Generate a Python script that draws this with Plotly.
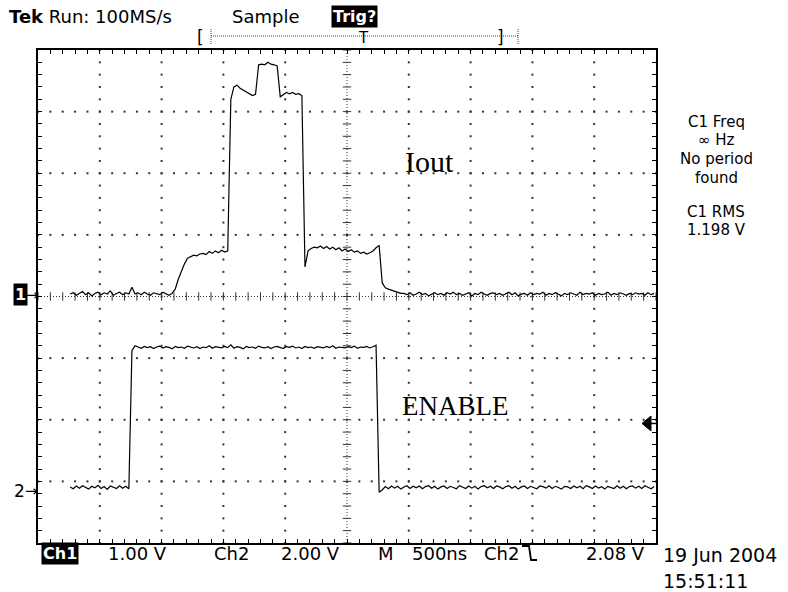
import numpy as np
import plotly.graph_objects as go

# ---------------- data ----------------
T0_NS = -2240          # first sample time (ns, trigger at centre = 0)
DT_NS = 25             # sample spacing (ns)
NS_PER_DIV = 500
CH1_V_PER_DIV = 1.0
CH2_V_PER_DIV = 2.0
CH1_GROUND_DIV = 0.0
CH2_GROUND_DIV = -3.1
TRIG_LEVEL_V = 2.08

# Ch1 : Iout (V)
iout_v = [
    0.04, 0.06, 0.02, 0.05, 0.08, 0.03, 0.06, 0.01, 0.05, 0.07,
    0.03, 0.06, 0.04, 0.09, 0.02, 0.05, 0.07, 0.03, 0.06, 0.04,
    0.15, 0.04, 0.06, 0.03, 0.07, 0.04, 0.02, 0.06, 0.05, 0.03,
    0.07, 0.04, 0.02, 0.05,
    0.12, 0.28, 0.42, 0.53, 0.62, 0.65, 0.67, 0.66, 0.69, 0.70,
    0.68, 0.73, 0.70, 0.74, 0.71, 0.75, 0.72, 0.74,
    3.20, 3.40, 3.43, 3.38, 3.35, 3.33, 3.30, 3.26, 3.28,
    3.76, 3.77, 3.76, 3.80, 3.77, 3.76, 3.74,
    3.24, 3.27, 3.31, 3.29, 3.31, 3.28, 3.29, 3.26,
    0.48, 0.74, 0.78, 0.80, 0.79, 0.82, 0.78, 0.81, 0.77, 0.80,
    0.76, 0.79, 0.74, 0.77, 0.73, 0.76, 0.72, 0.74, 0.70, 0.72,
    0.69, 0.71, 0.74, 0.79, 0.83,
    0.22, 0.14, 0.12, 0.10, 0.08, 0.07, 0.05,
    0.05, 0.03, 0.06, 0.02, 0.04, 0.07, 0.03, 0.05, 0.01, 0.04,
    0.06, 0.03, 0.05, 0.02, 0.06, 0.04, 0.07, 0.03, 0.05, 0.02,
    0.04, 0.06, 0.01, 0.05, 0.03, 0.07, 0.04, 0.02, 0.05, 0.06,
    0.03, 0.05, 0.02, 0.04, 0.07, 0.03, 0.06, 0.01, 0.04, 0.05,
    0.02, 0.06, 0.03, 0.05, 0.04, 0.07, 0.02, 0.05, 0.03, 0.06,
    0.04, 0.01, 0.05, 0.03, 0.06, 0.04, 0.02, 0.07, 0.03, 0.05,
    0.04, 0.06, 0.02, 0.05, 0.03, 0.04, 0.07, 0.02, 0.05, 0.03,
    0.06, 0.04, 0.02, 0.05, 0.03, 0.06, 0.04, 0.05, 0.02, 0.06,
    0.03, 0.05,
]

# Ch2 : ENABLE (V)
enable_v = [
    0.02, -0.04, 0.05, -0.02, 0.06, 0.00, -0.05, 0.04, -0.01, 0.07,
    -0.03, 0.03, -0.06, 0.05, 0.01, -0.03, 0.06, -0.02, 0.04, -0.04,
    4.45, 4.60, 4.56, 4.52, 4.58, 4.54, 4.57, 4.51, 4.56, 4.59,
    4.53, 4.57, 4.55, 4.50, 4.58, 4.54, 4.56, 4.52, 4.59, 4.55,
    4.53, 4.57, 4.51, 4.56, 4.54, 4.60, 4.52, 4.57, 4.55, 4.53,
    4.58, 4.54, 4.63, 4.52, 4.57, 4.55, 4.50, 4.58, 4.54, 4.56,
    4.52, 4.59, 4.55, 4.53, 4.57, 4.51, 4.56, 4.58, 4.54, 4.52,
    4.57, 4.55, 4.59, 4.53, 4.56, 4.51, 4.58, 4.54, 4.56, 4.52,
    4.57, 4.55, 4.53, 4.58, 4.54, 4.60, 4.52, 4.56, 4.55, 4.53,
    4.57, 4.54, 4.59, 4.52, 4.56, 4.55, 4.58, 4.53, 4.57, 4.62,
    -0.15, -0.08, 0.03, -0.04, 0.05, -0.02, 0.04, -0.05, 0.02, 0.06,
    -0.03, 0.04, -0.01, 0.05, -0.04, 0.03, 0.06, -0.02, 0.04, -0.05,
    0.02, 0.05, -0.03, 0.04, 0.00, -0.04, 0.06, 0.01, -0.03, 0.05,
    -0.02, 0.04, -0.05, 0.03, 0.06, -0.01, 0.04, -0.03, 0.05, 0.02,
    -0.04, 0.03, 0.06, -0.02, 0.04, -0.05, 0.02, 0.05, -0.03, 0.04,
    0.01, -0.04, 0.05, 0.03, -0.02, 0.06, -0.03, 0.04, 0.00, -0.05,
    0.04, 0.02, -0.03, 0.05, -0.01, 0.04, -0.04, 0.06, 0.02, -0.03,
    0.05, -0.02, 0.03, -0.05, 0.04, 0.01, -0.03, 0.06, -0.02, 0.04,
    -0.04, 0.03, 0.05, -0.02, 0.04, -0.03, 0.06, 0.01, -0.04, 0.03,
]

header_texts = ["Tek Run: 100MS/s", "Sample", "Trig?"]
footer_texts = ["Ch1", "1.00 V", "Ch2", "2.00 V", "M", "500ns", "Ch2", "2.08 V"]
side_texts = ["C1 Freq", "\u221e Hz", "No period", "found", "C1 RMS", "1.198 V"]
date_texts = ["19 Jun 2004", "15:51:11"]

# ---------------- geometry ----------------
W, H = 788, 592
L, R, T, B = 38, 656, 50, 543
X_DIVS, Y_DIVS = 10, 8
X_HALF = X_DIVS / 2 * NS_PER_DIV


def px(x):
    return (x - L) / (R - L)


def py(y):
    return (B - y) / (B - T)


t1 = T0_NS + DT_NS * np.arange(len(iout_v))
t2 = T0_NS + DT_NS * np.arange(len(enable_v))
y1 = np.array(iout_v) / CH1_V_PER_DIV + CH1_GROUND_DIV
y2 = np.array(enable_v) / CH2_V_PER_DIV + CH2_GROUND_DIV

fig = go.Figure()

# graticule dots
gx, gy = [], []
minor_x = [-X_HALF + i * NS_PER_DIV / 5 for i in range(X_DIVS * 5 + 1)]
minor_y = [-Y_DIVS / 2 + j / 5 for j in range(Y_DIVS * 5 + 1)]
for i in range(1, X_DIVS):
    if i == X_DIVS // 2:
        continue
    xv = -X_HALF + i * NS_PER_DIV
    for yv in minor_y:
        gx.append(xv)
        gy.append(yv)
for j in range(1, Y_DIVS):
    if j == Y_DIVS // 2:
        continue
    yv = -Y_DIVS / 2 + j
    for xv in minor_x:
        gx.append(xv)
        gy.append(yv)
fig.add_trace(go.Scatter(x=gx, y=gy, mode="markers", hoverinfo="skip",
                         marker=dict(symbol="square", size=2, color="#333333", line=dict(width=0)),
                         showlegend=False))
# centre-axis cross ticks
fig.add_trace(go.Scatter(x=minor_x, y=[0] * len(minor_x), mode="markers", hoverinfo="skip",
                         marker=dict(symbol="line-ns", size=6, line=dict(width=1, color="#333333")),
                         showlegend=False))
fig.add_trace(go.Scatter(x=[0] * len(minor_y), y=minor_y, mode="markers", hoverinfo="skip",
                         marker=dict(symbol="line-ew", size=6, line=dict(width=1, color="#333333")),
                         showlegend=False))

# traces
fig.add_trace(go.Scatter(x=t1, y=y1, mode="lines", name="Iout",
                         line=dict(color="black", width=1.2), showlegend=False))
fig.add_trace(go.Scatter(x=t2, y=y2, mode="lines", name="ENABLE",
                         line=dict(color="black", width=1.2), showlegend=False))

# trigger level marker on the right edge
trig_div = TRIG_LEVEL_V / CH2_V_PER_DIV + CH2_GROUND_DIV
fig.add_shape(type="line", xref="paper", yref="y", x0=px(649), x1=1, y0=trig_div, y1=trig_div,
              line=dict(color="black", width=1.5))
fig.add_shape(type="path", xref="paper", yref="paper",
              path="M {},{} L {},{} L {},{} Z".format(px(642), py(423.4), px(651), py(416), px(651), py(431)),
              fillcolor="black", line=dict(color="black", width=1))

# centre dotted axes
fig.add_shape(type="line", x0=0, x1=0, y0=-Y_DIVS / 2, y1=Y_DIVS / 2, layer="below",
              line=dict(color="#333333", width=1, dash="1px,2px"))
fig.add_shape(type="line", x0=-X_HALF, x1=X_HALF, y0=0, y1=0, layer="below",
              line=dict(color="#333333", width=1, dash="1px,2px"))

# record-view bar at top
fig.add_shape(type="line", xref="paper", yref="paper", x0=px(211), x1=px(518), y0=py(36), y1=py(36),
              line=dict(color="#444444", width=1, dash="1px,1px"))
for xx in (211, 518):
    fig.add_shape(type="line", xref="paper", yref="paper", x0=px(xx), x1=px(xx), y0=py(29), y1=py(44),
                  line=dict(color="#444444", width=1, dash="1px,1px"))
# falling-edge symbol in footer
fig.add_shape(type="path", xref="paper", yref="paper",
              path="M {},{} L {},{} L {},{} L {},{}".format(px(522), py(546), px(529), py(546),
                                                          px(531), py(560), px(537), py(560)),
              line=dict(color="black", width=1.8))

SANS = "DejaVu Sans, Verdana, sans-serif"
SERIF = "Liberation Serif, Times New Roman, serif"
ann = []


def text(s, x, y, size=17, color="black", bg=None, family=SANS, xanchor="center"):
    d = dict(text=s, x=px(x), y=py(y), xref="paper", yref="paper", showarrow=False,
             xanchor=xanchor, yanchor="middle", font=dict(family=family, size=size, color=color))
    if bg:
        d.update(bgcolor=bg, borderpad=1)
    ann.append(d)


# header
text("<b>Tek</b> Run: 100MS/s", 7, 16, size=18, xanchor="left")
text(header_texts[1], 266, 16, size=18)
text("<b>" + header_texts[2] + "</b>", 354, 16, size=16, color="white", bg="black")
text("[", 201, 37, size=17)
text("T", 363, 38, size=15)
text("]", 500, 37, size=17)

# footer
fx = [60, 137, 231, 310, 386, 439, 501, 615]
for s, x in zip(footer_texts, fx):
    if s == "Ch1":
        text("<b>" + s + "</b>", x, 553, size=16, color="white", bg="black")
    else:
        text(s, x, 553, size=18)
text(date_texts[0], 661, 555, size=19, xanchor="left")
text(date_texts[1], 661, 581, size=19, xanchor="left")

# side readouts
sy = [122, 140, 159, 178, 212, 230]
for s, y in zip(side_texts, sy):
    text(s, 716, y, size=15)

# channel markers
text("<b>1</b>", 20, 294, size=16, color="white", bg="black")
text("\u2192", 32, 295, size=15)
text("2", 19, 491, size=17)
text("\u2192", 31, 491, size=15)

# trace labels
text("Iout", 429, 161, size=30, family=SERIF)
text("ENABLE", 455, 406, size=27, family=SERIF)

fig.update_layout(
    width=W, height=H,
    margin=dict(l=L, r=W - R, t=T, b=H - B, pad=0),
    paper_bgcolor="white", plot_bgcolor="white",
    annotations=ann,
    xaxis=dict(range=[-X_HALF, X_HALF], showgrid=False, zeroline=False, showline=True,
               linecolor="black", linewidth=1.5, mirror="ticks", ticks="inside",
               tickvals=minor_x, ticklen=4, tickwidth=1, tickcolor="black",
               showticklabels=False, fixedrange=True),
    yaxis=dict(range=[-Y_DIVS / 2, Y_DIVS / 2], showgrid=False, zeroline=False, showline=True,
               linecolor="black", linewidth=1.5, mirror="ticks", ticks="inside",
               tickvals=minor_y, ticklen=4, tickwidth=1, tickcolor="black",
               showticklabels=False, fixedrange=True),
    showlegend=False,
)

fig.write_html("out.html", config={"displayModeBar": False},
               post_script="document.body.style.margin='0';document.body.style.overflow='hidden';")
